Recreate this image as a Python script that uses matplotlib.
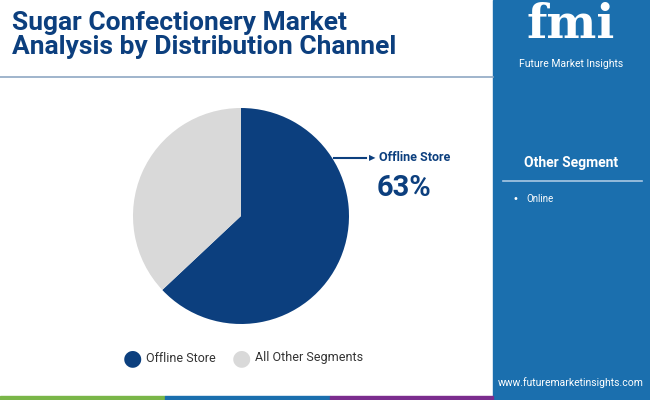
import matplotlib.pyplot as plt
from matplotlib.patches import Rectangle

segments = ['Offline Store', 'All Other Segments']
shares = [63, 37]
other_segments = ['Online']

W, H = 650, 400
dark_blue = '#0c3f7e'
grey = '#d9d9d9'
panel_blue = '#1b6fae'

fig = plt.figure(figsize=(6.5, 4), dpi=100)

def fx(x):
    return x / W

def fy(y):
    return 1 - y / H

# right panel
fig.patches.append(Rectangle((fx(493), 0), 1 - fx(493), 1, transform=fig.transFigure,
                             color=panel_blue, zorder=0))
# title underline
fig.add_artist(plt.Line2D([0, fx(493)], [fy(77), fy(77)], color='#8fa8c4', lw=1.2))
# bottom colour strip
for x0, x1, c in [(0, 165, '#7ab648'), (165, 330, '#1b6fae'), (330, 493, '#7b2d8e')]:
    fig.patches.append(Rectangle((fx(x0), 0), fx(x1 - x0), 4 / H, transform=fig.transFigure,
                                 color=c, zorder=1))

fig.text(fx(12), fy(35), 'Sugar Confectionery Market\nAnalysis by Distribution Channel',
         color=dark_blue, fontsize=19, fontweight='bold', family='Roboto',
         va='center', ha='left', linespacing=1.0)

# pie
ax = fig.add_axes([fx(133), fy(324), fx(216), 216 / H])
ax.pie(shares, colors=[dark_blue, grey], startangle=90, counterclock=False,
       wedgeprops=dict(linewidth=0))
ax.set_xlim(-1, 1)
ax.set_ylim(-1, 1)
ax.set_aspect('equal')

# annotation
fig.add_artist(plt.Line2D([fx(334), fx(366)], [fy(158), fy(158)], color=dark_blue, lw=1.5))
fig.text(fx(372), fy(158), '\u25B6', color=dark_blue, fontsize=6, va='center', ha='center')
fig.text(fx(379), fy(157), segments[0], color=dark_blue, fontsize=9, fontweight='bold',
         family='Roboto', va='center')
fig.text(fx(377), fy(188), f'{shares[0]}%', color=dark_blue, fontsize=21, fontweight='bold',
         family='Roboto', va='center')

# legend
for x, lab, c in [(132, segments[0], dark_blue), (241, segments[1], grey)]:
    fig.text(fx(x), fy(358), '\u25CF', color=c, fontsize=16, va='center', ha='center')
    fig.text(fx(x + 14), fy(358), lab, color='#333333', fontsize=9, family='Roboto', va='center')

# right panel content
fig.text(fx(571), fy(25), 'fmi', color='white', fontsize=34, fontweight='bold',
         family='DejaVu Serif', ha='center', va='center')
fig.text(fx(571), fy(64), 'Future Market Insights', color='white', fontsize=7.5,
         family='Roboto', ha='center', va='center')
fig.text(fx(571), fy(163), 'Other Segment', color='white', fontsize=10, fontweight='bold',
         family='Roboto', ha='center', va='center')
fig.add_artist(plt.Line2D([fx(503), fx(642)], [fy(181), fy(181)], color='#a9c8e4', lw=1.2))
for i, s in enumerate(other_segments):
    fig.text(fx(512), fy(199 + i * 18), '\u2022', color='white', fontsize=7, va='center')
    fig.text(fx(526), fy(199 + i * 18), s, color='white', fontsize=7, family='Roboto', va='center')
fig.text(fx(571), fy(383), 'www.futuremarketinsights.com', color='white', fontsize=7.5,
         family='Roboto', ha='center', va='center')

fig.savefig('out.png', dpi=100)
